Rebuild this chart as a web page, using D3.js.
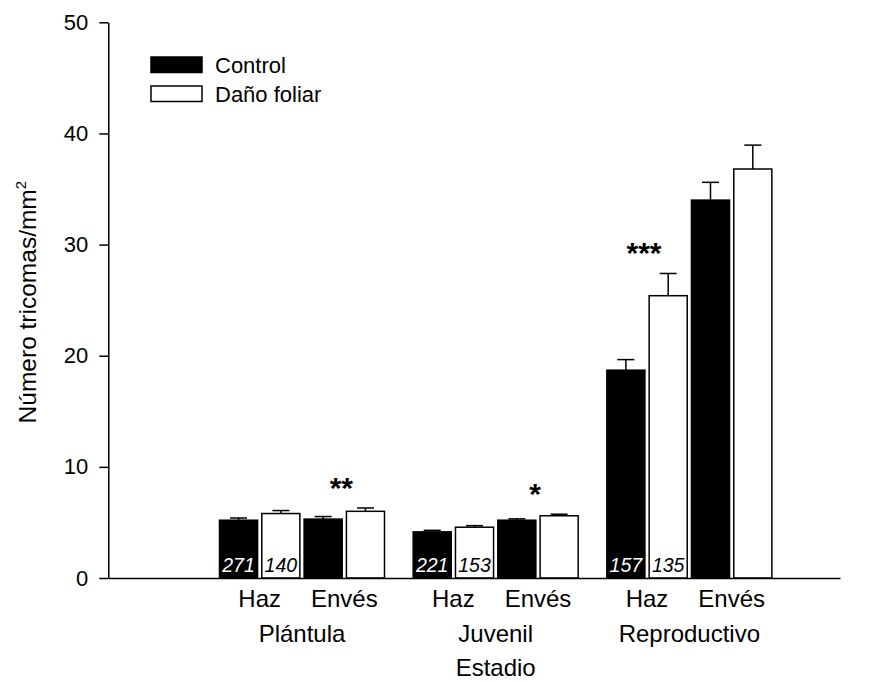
<!DOCTYPE html>
<html>
<head>
<meta charset="utf-8">
<script src="https://cdn.jsdelivr.net/npm/d3@7"></script>
<style>
  html, body { margin: 0; padding: 0; background: #fff; }
  svg { display: block; font-family: "Liberation Sans", Arial, sans-serif; }
</style>
</head>
<body>
<svg id="chart" width="872" height="682"></svg>
<script>
// Trichome density by developmental stage, leaf surface and treatment
const stages = ["Plántula", "Juvenil", "Reproductivo"];
const surfaces = ["Haz", "Envés"];
const treatments = ["Control", "Daño foliar"];

// Means and standard errors, ordered stage × surface (Haz, Envés)
const controlMean  = [5.2, 5.3, 4.15, 5.2, 18.7, 34.0];
const controlErr   = [0.2, 0.23, 0.14, 0.12, 0.95, 1.6];
const damageMean   = [5.8, 6.0, 4.57, 5.6, 25.4, 36.8];
const damageErr    = [0.27, 0.3, 0.14, 0.14, 2.0, 2.15];

// Sample sizes written on the Haz bars, per stage
const controlN = [271, 221, 157];
const damageN  = [140, 153, 135];

// Significance marks (stage, surface)
const sigStage   = ["Plántula", "Juvenil", "Reproductivo"];
const sigSurface = ["Envés", "Envés", "Haz"];
const sigLabel   = ["**", "*", "***"];

const yTicks = [0, 10, 20, 30, 40, 50];

const svg = d3.select("#chart");

const y = d3.scaleLinear().domain([0, 50]).range([578, 22.3]);
const xFrame = [108.3, 840];

const xStage = d3.scaleBand()
  .domain(stages)
  .range(xFrame)
  .paddingInner(0.148)
  .paddingOuter(0.463)
  .align(0.62);

const xBar = d3.scaleBand()
  .domain([0, 1, 2, 3])
  .range([0, xStage.bandwidth()])
  .paddingInner(0.1)
  .paddingOuter(0);

// Flatten into bar records
const bars = [];
stages.forEach((st, si) => {
  surfaces.forEach((sf, fi) => {
    const k = si * 2 + fi;
    treatments.forEach((tr, ti) => {
      bars.push({
        stage: st, surface: sf, treatment: tr,
        slot: fi * 2 + ti,
        mean: ti === 0 ? controlMean[k] : damageMean[k],
        err: ti === 0 ? controlErr[k] : damageErr[k],
        n: fi === 0 ? (ti === 0 ? controlN[si] : damageN[si]) : null
      });
    });
  });
});

const barX = d => xStage(d.stage) + xBar(d.slot);
const bw = xBar.bandwidth();

// Error bars (upper only)
const eb = svg.append("g").attr("stroke", "#000").attr("stroke-width", 1.5).attr("fill", "none");
bars.forEach(d => {
  const cx = barX(d) + bw / 2;
  eb.append("line").attr("x1", cx).attr("x2", cx).attr("y1", y(d.mean)).attr("y2", y(d.mean + d.err));
  eb.append("line").attr("x1", cx - 8.5).attr("x2", cx + 8.5).attr("y1", y(d.mean + d.err)).attr("y2", y(d.mean + d.err));
});

// Bars
svg.append("g").selectAll("rect").data(bars).join("rect")
  .attr("x", d => barX(d))
  .attr("y", d => y(d.mean))
  .attr("width", bw)
  .attr("height", d => y(0) - y(d.mean))
  .attr("fill", d => d.treatment === "Control" ? "#000" : "#fff")
  .attr("stroke", "#000")
  .attr("stroke-width", 1.5);

// Sample sizes inside bars
svg.append("g").selectAll("text").data(bars.filter(d => d.n !== null)).join("text")
  .attr("x", d => barX(d) + bw / 2)
  .attr("y", y(0) - 6)
  .attr("text-anchor", "middle")
  .attr("font-size", 19.5)
  .attr("font-style", "italic")
  .attr("fill", d => d.treatment === "Control" ? "#fff" : "#000")
  .text(d => d.n);

// Significance asterisks above each pair
sigLabel.forEach((lab, i) => {
  const pair = bars.filter(d => d.stage === sigStage[i] && d.surface === sigSurface[i]);
  const top = d3.min(pair, d => y(d.mean + d.err));
  const fi = surfaces.indexOf(sigSurface[i]);
  const cx = xStage(sigStage[i]) + xBar(fi * 2) + bw + (xBar.step() - bw) / 2;
  svg.append("text")
    .attr("x", cx - 3)
    .attr("y", top - 10)
    .attr("text-anchor", "middle")
    .attr("font-size", 30)
    .attr("font-weight", "bold")
    .text(lab);
});

// Y axis
const yAxis = svg.append("g")
  .attr("transform", `translate(${xFrame[0]},0)`)
  .call(d3.axisLeft(y).tickValues(yTicks).tickSize(9).tickSizeOuter(0).tickPadding(11));
yAxis.select(".domain").attr("stroke-width", 1.5);
yAxis.selectAll(".tick line").attr("stroke-width", 1.5);
yAxis.selectAll(".tick text").attr("font-size", 22).attr("font-family", "Liberation Sans, Arial, sans-serif").attr("fill", "#000");

// X baseline
const xLine = d3.scaleLinear().domain([0, 1]).range(xFrame);
const xAxis = svg.append("g")
  .attr("transform", `translate(0,${y(0)})`)
  .call(d3.axisBottom(xLine).tickValues([]).tickSizeOuter(0));
xAxis.select(".domain").attr("stroke-width", 1.5);

// Surface labels
stages.forEach(st => {
  surfaces.forEach((sf, fi) => {
    const cx = xStage(st) + xBar(fi * 2) + (xBar(fi * 2 + 1) + bw - xBar(fi * 2)) / 2;
    svg.append("text").attr("x", cx).attr("y", 607)
      .attr("text-anchor", "middle").attr("font-size", 24).text(sf);
  });
  svg.append("text").attr("x", xStage(st) + xStage.bandwidth() / 2).attr("y", 642)
    .attr("text-anchor", "middle").attr("font-size", 24).text(st);
});

// X axis title
svg.append("text")
  .attr("x", xStage(stages[0]) + (xStage(stages[2]) + xStage.bandwidth() - xStage(stages[0])) / 2)
  .attr("y", 676)
  .attr("text-anchor", "middle").attr("font-size", 24).text("Estadio");

// Y axis title
const yt = svg.append("text")
  .attr("transform", `translate(36,${(y(0) + y(50)) / 2 + 2}) rotate(-90)`)
  .attr("text-anchor", "middle")
  .attr("font-size", 24.5);
yt.append("tspan").text("Número tricomas/mm");
yt.append("tspan").attr("font-size", 15).attr("dy", -10).text("2");

// Legend
const legend = svg.append("g");
treatments.forEach((tr, i) => {
  legend.append("rect")
    .attr("x", 151).attr("y", 57 + i * 29)
    .attr("width", 51).attr("height", 15.5)
    .attr("fill", i === 0 ? "#000" : "#fff")
    .attr("stroke", "#000").attr("stroke-width", 1.5);
  legend.append("text")
    .attr("x", 215).attr("y", 73 + i * 29)
    .attr("font-size", 22).text(tr);
});
</script>
</body>
</html>
